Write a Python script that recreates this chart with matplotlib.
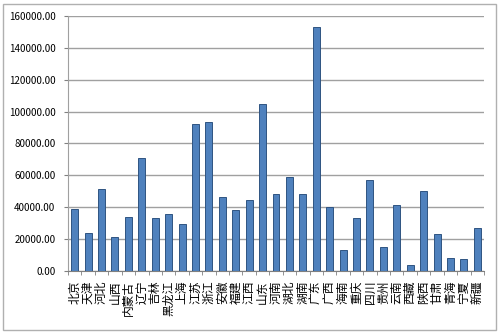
import matplotlib.pyplot as plt
from matplotlib.patches import Rectangle
from matplotlib.ticker import FuncFormatter, FixedLocator

plt.rcParams['font.family'] = ['Noto Sans CJK SC', 'DejaVu Sans']

# 各省数据
provinces = ['北京', '天津', '河北', '山西', '内蒙古', '辽宁', '吉林', '黑龙江', '上海', '江苏',
             '浙江', '安徽', '福建', '江西', '山东', '河南', '湖北', '湖南', '广东', '广西',
             '海南', '重庆', '四川', '贵州', '云南', '西藏', '陕西', '甘肃', '青海', '宁夏', '新疆']
values = [39000, 23800, 51600, 21500, 33700, 71000, 33000, 35600, 29300, 92400,
          93700, 46100, 38300, 44800, 104600, 48000, 59000, 48000, 153000, 40000,
          13000, 33000, 56800, 15200, 41300, 3400, 49900, 23400, 8200, 7400, 26700]
y_ticks = [0, 20000, 40000, 60000, 80000, 100000, 120000, 140000, 160000]

fig = plt.figure(figsize=(5, 3.34), dpi=100)
ax = fig.add_axes([0.136, 0.189, 0.832, 0.763])

# 外边框
fig.patches.append(Rectangle((0.006, 0.012), 0.986, 0.976, transform=fig.transFigure,
                             fill=False, edgecolor='#b0b0b0', linewidth=1))

x = list(range(len(provinces)))
ax.bar(x, values, width=0.52, color='#4f81bd', edgecolor='#2f5482', linewidth=0.7, zorder=3)

ax.set_xlim(-0.5, len(provinces) - 0.5)
ax.set_ylim(0, 160000)
ax.set_yticks(y_ticks)
ax.yaxis.set_major_formatter(FuncFormatter(lambda v, p: '%.2f' % v))
ax.grid(axis='y', color='#a0a0a0', linewidth=1, zorder=0)

# 省份名称旋转90度
ax.set_xticks(x)
ax.set_xticklabels(provinces, fontsize=8.5, rotation=90, va='top', ha='center')
ax.xaxis.set_minor_locator(FixedLocator([i - 0.5 for i in range(len(provinces) + 1)]))
ax.tick_params(axis='x', which='major', length=0, pad=7)
ax.tick_params(axis='x', which='minor', length=3, color='#808080')
ax.tick_params(axis='y', length=3, color='#808080', labelsize=7, pad=6)

for s in ['top', 'right']:
    ax.spines[s].set_visible(False)
ax.spines['left'].set_color('#a0a0a0')
ax.spines['bottom'].set_color('#808080')

plt.savefig('out.png', dpi=100)
